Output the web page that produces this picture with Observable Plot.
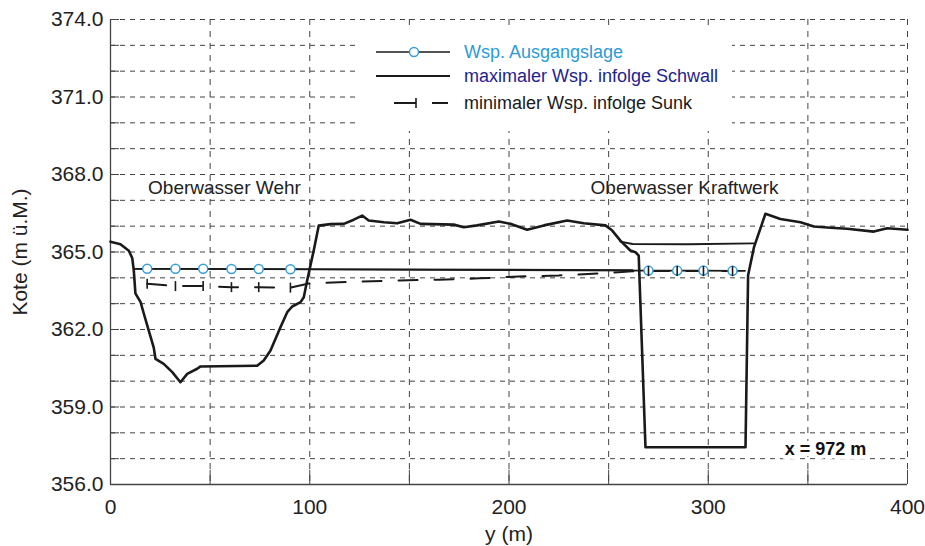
<!DOCTYPE html>
<html><head><meta charset="utf-8">
<script src="https://cdn.jsdelivr.net/npm/d3@7"></script>
<script src="https://cdn.jsdelivr.net/npm/@observablehq/plot@0.6"></script>
<style>
body{margin:0;background:#fff;font-family:"Liberation Sans",Arial,sans-serif;}
#wrap{position:relative;width:925px;height:546px;overflow:hidden;}
#legend{position:absolute;left:358px;top:29px;width:374px;height:102px;background:#fff;}
</style></head><body><div id="wrap"><div id="chart"></div><div id="legend"></div></div>
<script>
// Sohle / bed profile
const bedY = [0, 5, 9.2, 10.9, 11.7, 12.5, 15.1, 16.7, 19.2, 21.7, 22.6, 26.7, 31.0, 35.1, 38.5, 43.5, 45.2, 73.6, 76.9, 80.3, 85.3, 88.7, 91.2, 95.4, 97.0, 98.7, 102.0, 104.5, 110.4, 117.1, 122.1, 126.3, 129.6, 137.2, 143.9, 150.6, 155.6, 172.3, 177.3, 184.0, 194.9, 200.7, 209.1, 217.5, 229.2, 237.5, 248.4, 251.8, 255.9, 260.9, 263.5, 265.1, 268.5, 318.7, 320.0, 321.5, 323.0, 328.7, 336.2, 346.3, 353.0, 361.4, 369.7, 383.1, 389.8, 400];
const bedV = [365.4, 365.3, 365.05, 364.77, 364.28, 363.4, 363.06, 362.62, 361.96, 361.3, 360.86, 360.67, 360.35, 359.96, 360.28, 360.48, 360.57, 360.6, 360.8, 361.19, 362.09, 362.67, 362.89, 363.06, 363.25, 363.9, 365.06, 366.02, 366.08, 366.09, 366.25, 366.41, 366.22, 366.15, 366.11, 366.25, 366.09, 366.06, 365.96, 366.03, 366.18, 366.09, 365.86, 366.03, 366.22, 366.11, 366.03, 365.83, 365.44, 365.06, 364.99, 364.86, 357.44, 357.44, 364.1, 364.65, 365.2, 366.48, 366.28, 366.15, 365.99, 365.94, 365.9, 365.79, 365.92, 365.86];

// Wsp. Ausgangslage (line points, marker flags)
const ausY = [11.7, 18.4, 32.6, 46.5, 60.7, 74.4, 90.3, 270.0, 284.4, 297.6, 312.2, 318.5];
const ausV = [364.35, 364.35, 364.35, 364.35, 364.34, 364.34, 364.33, 364.28, 364.28, 364.28, 364.27, 364.27];
const ausMark = [false, true, true, true, true, true, true, true, true, true, true, false];

// maximaler Wsp. infolge Schwall (two reaches)
const maxY = [11.7, 262.0, 255.9, 262.0, 290.0, 322.7];
const maxV = [364.35, 364.3, 365.4, 365.31, 365.3, 365.33];
const maxSeg = ["Wehr", "Wehr", "Kraftwerk", "Kraftwerk", "Kraftwerk", "Kraftwerk"];

// minimaler Wsp. infolge Sunk
const minY = [18.4, 32.6, 46.5, 60.7, 74.4, 90.3, 99.5, 120, 145, 165, 185, 205, 225, 245, 262, 270.0, 284.4, 297.6, 312.2];
const minV = [363.77, 363.68, 363.68, 363.64, 363.64, 363.62, 363.78, 363.84, 363.9, 363.93, 363.98, 364.05, 364.09, 364.17, 364.25, 364.26, 364.26, 364.26, 364.26];
const minMark = [true, true, true, true, true, true, false, false, false, false, false, false, false, false, false, true, true, true, true];

// annotations
const annoY = [57.2, 288.1];
const annoV = [367.5, 367.5];
const annoText = ["Oberwasser Wehr", "Oberwasser Kraftwerk"];
const sectionY = [358.8];
const sectionV = [357.38];
const sectionText = ["x = 972 m"];

// ticks & grid
const xTicks = [0, 100, 200, 300, 400];
const yTicks = [356, 359, 362, 365, 368, 371, 374];
const hGrid = d3.range(357, 375, 1);
const vGrid = d3.range(50, 401, 50);

const bed = bedY.map((y, i) => ({y, v: bedV[i]}));
const aus = ausY.map((y, i) => ({y, v: ausV[i], m: ausMark[i]}));
const maxD = maxY.map((y, i) => ({y, v: maxV[i], seg: maxSeg[i]}));
const minD = minY.map((y, i) => ({y, v: minV[i], m: minMark[i]}));
const anno = annoY.map((y, i) => ({y, v: annoV[i], t: annoText[i]}));
const sect = sectionY.map((y, i) => ({y, v: sectionV[i], t: sectionText[i]}));

const tickSymbol = {draw(ctx, size) { const h = Math.sqrt(size / Math.PI); ctx.moveTo(0, -h); ctx.lineTo(0, h); }};
const ink = "#1a1a1a";
const gridC = "#444";

const chart = Plot.plot({
  width: 925, height: 546,
  marginLeft: 110, marginRight: 18, marginTop: 19, marginBottom: 62,
  style: {fontFamily: "Liberation Sans, Arial, sans-serif", fontSize: "21px", color: "#222", background: "#fff"},
  x: {domain: [0, 400], ticks: xTicks, tickFormat: d => String(d), tickSize: 0, tickPadding: 15, label: "y (m)", labelArrow: false, labelAnchor: "center", labelOffset: 56},
  y: {domain: [356, 374], ticks: yTicks, tickFormat: d => d.toFixed(1), tickSize: 0, tickPadding: 7, label: "Kote (m ü.M.)", labelArrow: false, labelAnchor: "center", labelOffset: 98},
  marks: [
    Plot.ruleY(hGrid, {stroke: gridC, strokeWidth: 1, strokeDasharray: "5,5"}),
    Plot.ruleX(vGrid, {stroke: gridC, strokeWidth: 1, strokeDasharray: "6,6"}),
    Plot.ruleX([0], {stroke: gridC, strokeWidth: 1.3}),
    Plot.ruleY([356], {stroke: gridC, strokeWidth: 1.3}),
    Plot.ruleY(hGrid, {x1: 0, x2: 4.5, stroke: gridC, strokeWidth: 1}),
    Plot.ruleX(vGrid, {y1: 356, y2: 356.55, stroke: gridC, strokeWidth: 1}),
    Plot.line(bed, {x: "y", y: "v", stroke: ink, strokeWidth: 2.6, strokeLinejoin: "round"}),
    Plot.line(maxD, {x: "y", y: "v", z: "seg", stroke: ink, strokeWidth: 1.8}),
    Plot.line(aus, {x: "y", y: "v", stroke: ink, strokeWidth: 1.6}),
    Plot.line(minD, {x: "y", y: "v", stroke: ink, strokeWidth: 2, strokeDasharray: "19,17"}),
    Plot.dot(aus.filter(d => d.m), {x: "y", y: "v", r: 4.5, stroke: "#3a9fd9", fill: "white", strokeWidth: 1.5}),
    Plot.dot(minD.filter(d => d.m), {x: "y", y: "v", r: 5, symbol: tickSymbol, stroke: ink, fill: "none", strokeWidth: 1.6}),
    Plot.text(anno, {x: "y", y: "v", text: "t", fontSize: 19, fill: "#222"}),
    Plot.text(sect, {x: "y", y: "v", text: "t", fontSize: 18, fontWeight: "bold", fill: "#111", stroke: "white", strokeWidth: 8, paintOrder: "stroke"})
  ]
});
document.getElementById("chart").appendChild(chart);

// legend
const legendItems = [
  {label: "Wsp. Ausgangslage", color: "#2b9bd8"},
  {label: "maximaler Wsp. infolge Schwall", color: "#23238f"},
  {label: "minimaler Wsp. infolge Sunk", color: "#1a1a1a"}
];
const rowsY = [23, 47, 74];
const ns = "http://www.w3.org/2000/svg";
const lsvg = document.createElementNS(ns, "svg");
lsvg.setAttribute("width", 374); lsvg.setAttribute("height", 102);
function el(name, attrs, parent) { const e = document.createElementNS(ns, name); for (const k in attrs) e.setAttribute(k, attrs[k]); parent.appendChild(e); return e; }
el("line", {x1: 18, x2: 92, y1: rowsY[0], y2: rowsY[0], stroke: ink, "stroke-width": 1.6}, lsvg);
el("circle", {cx: 56, cy: rowsY[0], r: 4.5, fill: "white", stroke: "#3a9fd9", "stroke-width": 1.5}, lsvg);
el("line", {x1: 18, x2: 92, y1: rowsY[1], y2: rowsY[1], stroke: ink, "stroke-width": 1.8}, lsvg);
el("line", {x1: 36, x2: 58, y1: rowsY[2], y2: rowsY[2], stroke: ink, "stroke-width": 2}, lsvg);
el("line", {x1: 58, x2: 58, y1: rowsY[2] - 5, y2: rowsY[2] + 5, stroke: ink, "stroke-width": 1.6}, lsvg);
el("line", {x1: 74, x2: 90, y1: rowsY[2], y2: rowsY[2], stroke: ink, "stroke-width": 2}, lsvg);
legendItems.forEach((it, i) => {
  const t = el("text", {x: 106, y: rowsY[i], dy: "0.35em", fill: it.color, "font-size": 18, "font-family": "Liberation Sans, Arial, sans-serif"}, lsvg);
  t.textContent = it.label;
});
document.getElementById("legend").appendChild(lsvg);
</script>
</body></html>
